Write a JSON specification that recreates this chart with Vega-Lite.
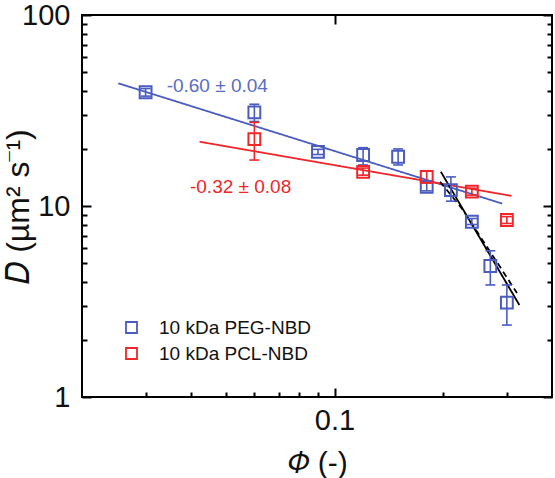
{
  "$schema": "https://vega.github.io/schema/vega-lite/v6.json",
  "width": 470,
  "height": 382,
  "autosize": {"type": "none"},
  "padding": {"left": 82, "top": 15, "right": 3, "bottom": 81},
  "background": "white",
  "config": {
    "view": {"stroke": "black", "strokeWidth": 2},
    "font": "Liberation Sans"
  },
  "datasets": {
    "points": [
      {"series": "10 kDa PEG-NBD", "phi": 0.03, "D": 39.4, "lo": 37.6, "hi": 41.2},
      {"series": "10 kDa PEG-NBD", "phi": 0.06, "D": 30.9, "lo": 27.7, "hi": 34.1},
      {"series": "10 kDa PEG-NBD", "phi": 0.09, "D": 19.2, "lo": 18.6, "hi": 19.8},
      {"series": "10 kDa PEG-NBD", "phi": 0.12, "D": 18.5, "lo": 16.4, "hi": 20.2},
      {"series": "10 kDa PEG-NBD", "phi": 0.15, "D": 18.1, "lo": 16.4, "hi": 19.9},
      {"series": "10 kDa PEG-NBD", "phi": 0.18, "D": 12.6, "lo": 12.0, "hi": 13.3},
      {"series": "10 kDa PEG-NBD", "phi": 0.21, "D": 12.1, "lo": 10.6, "hi": 14.2},
      {"series": "10 kDa PEG-NBD", "phi": 0.24, "D": 8.27, "lo": 8.0, "hi": 8.6},
      {"series": "10 kDa PEG-NBD", "phi": 0.27, "D": 4.85, "lo": 3.86, "hi": 5.83},
      {"series": "10 kDa PEG-NBD", "phi": 0.30, "D": 3.12, "lo": 2.38, "hi": 3.86},
      {"series": "10 kDa PCL-NBD", "phi": 0.06, "D": 22.4, "lo": 17.4, "hi": 27.4},
      {"series": "10 kDa PCL-NBD", "phi": 0.12, "D": 15.1, "lo": 14.5, "hi": 15.8},
      {"series": "10 kDa PCL-NBD", "phi": 0.18, "D": 14.2, "lo": 13.2, "hi": 15.3},
      {"series": "10 kDa PCL-NBD", "phi": 0.24, "D": 11.9, "lo": 11.4, "hi": 12.4},
      {"series": "10 kDa PCL-NBD", "phi": 0.30, "D": 8.45, "lo": 8.1, "hi": 8.8}
    ],
    "fits": [
      {"fit": "PEG", "phi": 0.0252, "D": 43.9},
      {"fit": "PEG", "phi": 0.291, "D": 10.3},
      {"fit": "PCL", "phi": 0.0423, "D": 21.7},
      {"fit": "PCL", "phi": 0.309, "D": 11.3},
      {"fit": "solid", "phi": 0.197, "D": 15.1},
      {"fit": "solid", "phi": 0.325, "D": 3.03},
      {"fit": "dashed", "phi": 0.196, "D": 13.4},
      {"fit": "dashed", "phi": 0.225, "D": 9.72},
      {"fit": "dashed", "phi": 0.279, "D": 5.22},
      {"fit": "dashed", "phi": 0.32, "D": 3.5}
    ],
    "labels": [
      {"text": "-0.60 ± 0.04", "phi": 0.0343, "D": 42.5, "c": "PEG"},
      {"text": "-0.32 ± 0.08", "phi": 0.0398, "D": 12.5, "c": "PCL"}
    ]
  },
  "resolve": {
    "axis": {"x": "independent", "y": "independent"},
    "scale": {"color": "independent", "strokeDash": "independent"},
    "legend": {"color": "independent"}
  },
  "layer": [
    {
      "data": {"name": "fits"},
      "mark": {"type": "line", "strokeWidth": 1.8},
      "encoding": {
        "x": {
          "field": "phi", "type": "quantitative",
          "scale": {"type": "log", "domain": [0.02, 0.4], "nice": false},
          "axis": {
            "orient": "bottom",
            "values": [0.03, 0.04, 0.05, 0.06, 0.07, 0.08, 0.09, 0.1, 0.2, 0.3],
            "labelExpr": "datum.value == 0.1 ? '0.1' : ''",
            "tickSize": {"condition": {"test": "datum.value == 0.1", "value": -9}, "value": -5},
            "tickColor": "black", "tickWidth": 2,
            "domain": false, "grid": false,
            "labelFont": "Liberation Sans", "labelFontSize": 29, "labelColor": "#111", "labelPadding": 18,
            "labelFlush": false, "labelOverlap": false,
            "title": "𝛷 (-)", "titleFontSize": 30, "titleFontWeight": "normal",
            "titleFont": "Liberation Sans",
            "titleColor": "#111", "titlePadding": 9
          }
        },
        "y": {
          "field": "D", "type": "quantitative",
          "scale": {"type": "log", "domain": [1, 100], "nice": false},
          "axis": {
            "orient": "left",
            "values": [1, 2, 3, 4, 5, 6, 7, 8, 9, 10, 20, 30, 40, 50, 60, 70, 80, 90, 100],
            "labelExpr": "datum.value == 1 ? '1' : datum.value == 10 ? '10' : datum.value == 100 ? '100' : ''",
            "tickSize": {"condition": {"test": "datum.value == 1 || datum.value == 10 || datum.value == 100", "value": -9}, "value": -5},
            "tickColor": "black", "tickWidth": 2,
            "domain": false, "grid": false,
            "labelFont": "Liberation Sans", "labelFontSize": 29, "labelColor": "#111", "labelPadding": 21,
            "labelFlush": false, "labelOverlap": false,
            "title": "𝐷 (µm² s⁻¹)", "titleFontSize": 32, "titleFontWeight": "normal",
            "titleFont": "Liberation Sans",
            "titleColor": "#111", "titlePadding": -14
          }
        },
        "color": {
          "field": "fit", "type": "nominal",
          "scale": {"domain": ["PEG", "PCL", "solid", "dashed"], "range": ["#4a5cc0", "#f0262a", "#000000", "#000000"]},
          "legend": null
        },
        "strokeDash": {
          "field": "fit", "type": "nominal",
          "scale": {"domain": ["PEG", "PCL", "solid", "dashed"], "range": [[1, 0], [1, 0], [1, 0], [6, 4]]},
          "legend": null
        }
      }
    },
    {
      "data": {"name": "points"},
      "mark": {"type": "rule", "strokeWidth": 1.6},
      "encoding": {
        "x": {"field": "phi", "type": "quantitative", "axis": {
            "orient": "top",
            "values": [0.1],
            "labels": false,
            "tickSize": -9,
            "tickColor": "black", "tickWidth": 2,
            "domain": false, "grid": false, "title": null
        }},
        "y": {"field": "lo", "type": "quantitative", "axis": {
            "orient": "right",
            "values": [1, 2, 3, 4, 5, 6, 7, 8, 9, 10, 20, 30, 40, 50, 60, 70, 80, 90, 100],
            "labels": false,
            "tickSize": {"condition": {"test": "datum.value == 1 || datum.value == 10 || datum.value == 100", "value": -9}, "value": -5},
            "tickColor": "black", "tickWidth": 2,
            "domain": false, "grid": false, "title": null
        }},
        "y2": {"field": "hi"},
        "color": {"field": "series", "type": "nominal", "scale": {"domain": ["10 kDa PEG-NBD", "10 kDa PCL-NBD"], "range": ["#4a5cc0", "#f0262a"]}, "legend": null}
      }
    },
    {
      "data": {"name": "points"},
      "mark": {"type": "point", "shape": "M-1,0L1,0", "size": 100, "strokeWidth": 1.6, "filled": false, "opacity": 1},
      "encoding": {
        "x": {"field": "phi", "type": "quantitative", "axis": null},
        "y": {"field": "lo", "type": "quantitative", "axis": null},
        "color": {"field": "series", "type": "nominal", "scale": {"domain": ["10 kDa PEG-NBD", "10 kDa PCL-NBD"], "range": ["#4a5cc0", "#f0262a"]}, "legend": null}
      }
    },
    {
      "data": {"name": "points"},
      "mark": {"type": "point", "shape": "M-1,0L1,0", "size": 100, "strokeWidth": 1.6, "filled": false, "opacity": 1},
      "encoding": {
        "x": {"field": "phi", "type": "quantitative", "axis": null},
        "y": {"field": "hi", "type": "quantitative", "axis": null},
        "color": {"field": "series", "type": "nominal", "scale": {"domain": ["10 kDa PEG-NBD", "10 kDa PCL-NBD"], "range": ["#4a5cc0", "#f0262a"]}, "legend": null}
      }
    },
    {
      "data": {"name": "points"},
      "mark": {"type": "point", "shape": "square", "size": 140, "strokeWidth": 2, "filled": false, "opacity": 1},
      "encoding": {
        "x": {"field": "phi", "type": "quantitative", "axis": null},
        "y": {"field": "D", "type": "quantitative", "axis": null},
        "color": {
          "field": "series", "type": "nominal",
          "scale": {"domain": ["10 kDa PEG-NBD", "10 kDa PCL-NBD"], "range": ["#4a5cc0", "#f0262a"]},
          "legend": {
            "orient": "none", "legendX": 40, "legendY": 303, "title": null,
            "padding": 0, "symbolType": "square", "symbolSize": 121, "symbolStrokeWidth": 1.8,
            "labelFontSize": 19, "labelColor": "#111", "labelOffset": 18, "rowPadding": 6,
            "labelFont": "Liberation Sans", "labelLimit": 400
          }
        }
      }
    },
    {
      "data": {"name": "labels"},
      "mark": {"type": "text", "align": "left", "baseline": "middle", "fontSize": 19, "font": "Liberation Sans"},
      "encoding": {
        "x": {"field": "phi", "type": "quantitative", "axis": null},
        "y": {"field": "D", "type": "quantitative", "axis": null},
        "text": {"field": "text"},
        "color": {"field": "c", "type": "nominal", "scale": {"domain": ["PEG", "PCL"], "range": ["#5a6cc4", "#f0262a"]}, "legend": null}
      }
    }
  ]
}
